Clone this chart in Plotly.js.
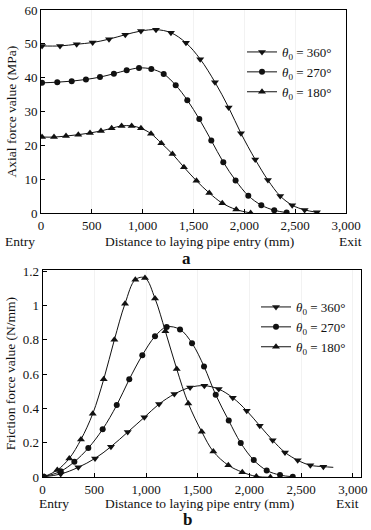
<!DOCTYPE html>
<html>
<head>
<meta charset="utf-8">
<script src="https://cdn.plot.ly/plotly-3.0.1.min.js"></script>
<style>html,body{margin:0;padding:0;background:#fff}#chart{width:371px;height:530px}</style>
</head>
<body>
<div id="chart"></div>
<script>
// ---- Data (a) Axial force value (MPa) ----
const seriesNames = ["<i>θ</i><sub>0</sub> = 360°", "<i>θ</i><sub>0</sub> = 270°", "<i>θ</i><sub>0</sub> = 180°"];
const axialX360 = [10, 187, 351, 508, 669, 829, 983, 1131, 1278, 1426, 1566, 1711, 1846, 1967, 2107, 2232, 2353, 2471, 2593, 2714];
const axialY360 = [49.4, 49.4, 49.9, 50.4, 51.4, 52.7, 53.8, 54.2, 53.3, 50.3, 45.5, 38.7, 31.2, 23.6, 15.9, 9.8, 5.1, 2.4, 1.0, 0.3];
const axialX270 = [10, 160, 302, 442, 580, 717, 843, 964, 1085, 1207, 1325, 1439, 1557, 1675, 1793, 1914, 2039, 2167, 2294, 2416];
const axialY270 = [38.5, 38.7, 39.0, 39.5, 40.2, 41.2, 42.2, 42.9, 42.6, 41.1, 37.8, 33.4, 27.8, 21.5, 15.1, 9.7, 5.2, 2.4, 0.9, 0.2];
const axialX180 = [10, 128, 246, 367, 482, 590, 695, 793, 892, 983, 1082, 1183, 1293, 1406, 1529, 1655, 1783, 1920, 2062];
const axialY180 = [22.5, 22.5, 22.8, 23.2, 23.7, 24.3, 25.1, 25.8, 25.8, 25.1, 23.5, 20.7, 17.5, 13.6, 9.6, 6.0, 3.0, 1.1, 0.1];

// ---- Data (b) Friction force value (N/mm) ----
const fricX360 = [14, 175, 345, 507, 661, 823, 984, 1126, 1274, 1426, 1564, 1703, 1839, 1974, 2100, 2225, 2344, 2467, 2589, 2715, 2811];
const fricY360 = [0.003, 0.019, 0.058, 0.11, 0.178, 0.263, 0.349, 0.426, 0.484, 0.523, 0.533, 0.513, 0.463, 0.387, 0.30, 0.215, 0.145, 0.099, 0.07, 0.062, 0.058];
const fricMarked360 = [1,1,1,1,1,1,1,1,1,1,1,1,1,1,1,1,1,1,1,1,0]; // last value: curve end without marker
const fricX270 = [14, 175, 307, 442, 581, 717, 838, 964, 1087, 1200, 1329, 1445, 1561, 1674, 1800, 1916, 2042, 2167, 2296, 2419];
const fricY270 = [0.003, 0.035, 0.09, 0.17, 0.28, 0.42, 0.57, 0.71, 0.82, 0.875, 0.86, 0.78, 0.645, 0.48, 0.33, 0.20, 0.10, 0.04, 0.013, 0.003];
const fricX180 = [14, 142, 258, 371, 485, 591, 694, 797, 897, 990, 1087, 1187, 1297, 1409, 1539, 1651, 1796, 1931, 2067, 2203];
const fricY180 = [0.003, 0.042, 0.11, 0.22, 0.37, 0.57, 0.80, 1.01, 1.15, 1.16, 1.04, 0.85, 0.63, 0.43, 0.265, 0.15, 0.07, 0.03, 0.005, 0.0];

const FONT = "Liberation Serif, Times New Roman, serif";
const INK = "#111";
const W = 371, H = 530;
const px = v => v / W;
const py = v => (H - v) / H;

function tr(x, y, name, symbol, size, xa, ya, legend, shown) {
  const t = {
    x: x, y: y, name: name, type: "scatter", mode: "lines+markers",
    xaxis: xa, yaxis: ya, legend: legend,
    line: {color: INK, width: 1, shape: "spline", smoothing: 1},
    marker: {symbol: symbol, color: INK, size: size, line: {width: 0}}
  };
  if (shown) t.marker.opacity = shown;
  return t;
}

const data = [
  tr(axialX360, axialY360, seriesNames[0], "triangle-down", 7, "x", "y", "legend"),
  tr(axialX270, axialY270, seriesNames[1], "circle", 6, "x", "y", "legend"),
  tr(axialX180, axialY180, seriesNames[2], "triangle-up", 7, "x", "y", "legend"),
  tr(fricX360, fricY360, seriesNames[0], "triangle-down", 7, "x2", "y2", "legend2", fricMarked360),
  tr(fricX270, fricY270, seriesNames[1], "circle", 6, "x2", "y2", "legend2"),
  tr(fricX180, fricY180, seriesNames[2], "triangle-up", 7, "x2", "y2", "legend2")
];

const axisBase = {
  showline: true, mirror: true, linecolor: "#000", linewidth: 1,
  ticks: "inside", ticklen: 4, tickcolor: "#000",
  showgrid: false, gridcolor: "#f2f2f2", zeroline: false,
  tickfont: {family: FONT, size: 13, color: INK},
  fixedrange: true
};
const TFONT = {family: FONT, size: 13.5, color: INK};

const layout = {
  width: W, height: H,
  margin: {l: 0, r: 0, t: 0, b: 0},
  paper_bgcolor: "#fff", plot_bgcolor: "#fff",
  font: {family: FONT, color: INK},
  xaxis: Object.assign({}, axisBase, {
    domain: [px(41), px(346)], range: [0, 3000], dtick: 500, tickformat: ",", anchor: "y", showgrid: true
  }),
  yaxis: Object.assign({}, axisBase, {
    domain: [py(213.3), py(10)], range: [0, 60], dtick: 10, anchor: "x",
    title: {text: "Axial force value (MPa)", font: TFONT, standoff: 4}
  }),
  xaxis2: Object.assign({}, axisBase, {
    domain: [px(42.6), px(361)], range: [0, 3079], dtick: 500, tickformat: ",", anchor: "y2", showgrid: true
  }),
  yaxis2: Object.assign({}, axisBase, {
    domain: [py(477.3), py(270)], range: [0, 1.206], dtick: 0.2, anchor: "x2",
    title: {text: "Friction force value (N/mm)", font: TFONT, standoff: 4}
  }),
  legend: {
    x: px(242), y: py(37), xanchor: "left", yanchor: "top",
    bgcolor: "rgba(0,0,0,0)", font: {family: FONT, size: 13, color: INK},
    itemwidth: 30, tracegroupgap: 0
  },
  legend2: {
    x: px(256), y: py(292), xanchor: "left", yanchor: "top",
    bgcolor: "rgba(0,0,0,0)", font: {family: FONT, size: 13, color: INK},
    itemwidth: 30, tracegroupgap: 0
  },
  annotations: [
    {text: "Entry", xref: "paper", yref: "paper", x: px(3), y: py(241), xanchor: "left", yanchor: "middle", showarrow: false, font: TFONT},
    {text: "Distance to laying pipe entry (mm)", xref: "paper", yref: "paper", x: px(199), y: py(241), xanchor: "center", yanchor: "middle", showarrow: false, font: TFONT},
    {text: "Exit", xref: "paper", yref: "paper", x: px(364), y: py(241), xanchor: "right", yanchor: "middle", showarrow: false, font: TFONT},
    {text: "<b>a</b>", xref: "paper", yref: "paper", x: px(186), y: py(258), xanchor: "center", yanchor: "middle", showarrow: false, font: {family: FONT, size: 17, color: INK}},
    {text: "Entry", xref: "paper", yref: "paper", x: px(37), y: py(503), xanchor: "left", yanchor: "middle", showarrow: false, font: TFONT},
    {text: "Distance to laying pipe entry (mm)", xref: "paper", yref: "paper", x: px(200), y: py(503), xanchor: "center", yanchor: "middle", showarrow: false, font: TFONT},
    {text: "Exit", xref: "paper", yref: "paper", x: px(361), y: py(503), xanchor: "right", yanchor: "middle", showarrow: false, font: TFONT},
    {text: "<b>b</b>", xref: "paper", yref: "paper", x: px(187), y: py(519), xanchor: "center", yanchor: "middle", showarrow: false, font: {family: FONT, size: 17, color: INK}}
  ]
};

Plotly.newPlot("chart", data, layout, {displayModeBar: false, staticPlot: true});
</script>
</body>
</html>
